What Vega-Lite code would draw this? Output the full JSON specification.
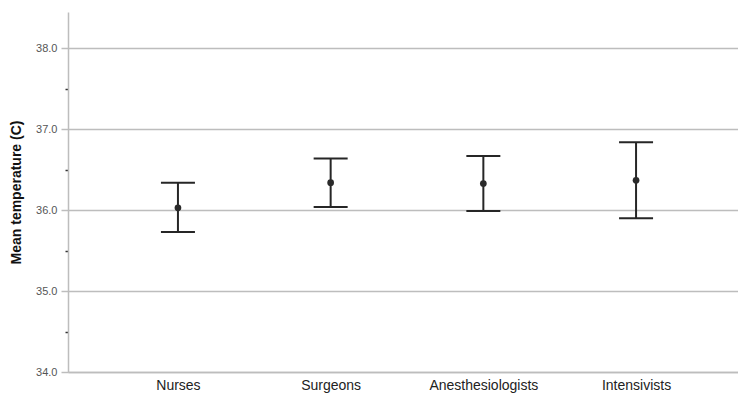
{
  "$schema": "https://vega.github.io/schema/vega-lite/v6.json",
  "width": 678,
  "height": 360,
  "autosize": "none",
  "padding": {"left": 68, "top": 12, "right": 0, "bottom": 22},
  "background": "white",
  "config": {
    "font": "Liberation Sans",
    "view": {"stroke": null}
  },
  "data": {
    "values": [
      {"group": "Nurses", "mean": 36.03, "lower": 35.73, "upper": 36.34},
      {"group": "Surgeons", "mean": 36.34, "lower": 36.04, "upper": 36.64},
      {"group": "Anesthesiologists", "mean": 36.33, "lower": 35.99, "upper": 36.67},
      {"group": "Intensivists", "mean": 36.37, "lower": 35.90, "upper": 36.84}
    ]
  },
  "encoding": {
    "x": {
      "field": "group",
      "type": "nominal",
      "sort": null,
      "scale": {"type": "point", "padding": 0.72},
      "axis": {
        "title": null,
        "labelAngle": 0,
        "labelFontSize": 14,
        "labelColor": "#222222",
        "labelPadding": 6,
        "ticks": false,
        "grid": false,
        "domainColor": "#bdbdbd",
        "domainWidth": 1.5
      }
    }
  },
  "layer": [
    {
      "mark": {"type": "rule", "color": "#262626", "strokeWidth": 2},
      "encoding": {
        "y": {
          "field": "lower",
          "type": "quantitative",
          "scale": {"domain": [34, 38.45], "nice": false, "zero": false},
          "axis": {
            "title": "Mean temperature (C)",
            "titleFontSize": 14,
            "titleFontWeight": "bold",
            "titleColor": "#111111",
            "titlePadding": 12,
            "values": [34, 34.5, 35, 35.5, 36, 36.5, 37, 37.5, 38],
            "labelExpr": "datum.value % 1 == 0 ? format(datum.value, '.1f') : ''",
            "labelFontSize": 11,
            "labelColor": "#555555",
            "labelPadding": 4,
            "tickColor": {"condition": {"test": "datum.value % 1 != 0", "value": "#333333"}, "value": "#bdbdbd"},
            "tickSize": {"condition": {"test": "datum.value % 1 != 0", "value": 3}, "value": 7},
            "tickWidth": 1.5,
            "grid": true,
            "gridColor": "#bdbdbd",
            "gridWidth": 1.5,
            "gridOpacity": {"condition": {"test": "datum.value % 1 != 0", "value": 0}, "value": 1},
            "domainColor": "#bdbdbd",
            "domainWidth": 1.5
          }
        },
        "y2": {"field": "upper"}
      }
    },
    {
      "mark": {"type": "tick", "color": "#262626", "thickness": 2, "size": 34, "orient": "horizontal", "opacity": 1},
      "encoding": {"y": {"field": "lower", "type": "quantitative"}}
    },
    {
      "mark": {"type": "tick", "color": "#262626", "thickness": 2, "size": 34, "orient": "horizontal", "opacity": 1},
      "encoding": {"y": {"field": "upper", "type": "quantitative"}}
    },
    {
      "mark": {"type": "point", "filled": true, "color": "#2a2a2a", "size": 45, "opacity": 1},
      "encoding": {"y": {"field": "mean", "type": "quantitative"}}
    }
  ]
}
